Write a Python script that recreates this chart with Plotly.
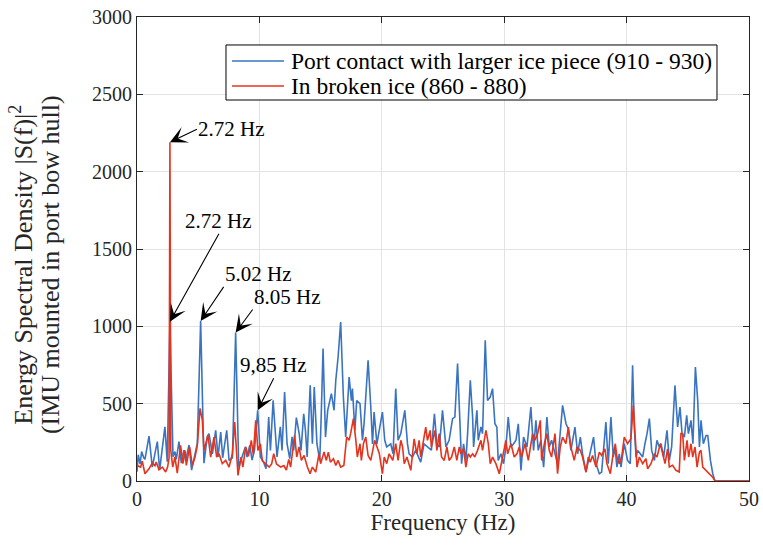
import plotly.graph_objects as go

# ---------------- data ----------------
blue_freq = [0.0, 0.1, 0.25, 0.38, 0.55, 0.65, 0.98, 1.25, 1.45, 1.66, 1.85, 2.05, 2.28, 2.47, 2.69,
             2.94, 3.10, 3.21, 3.43, 3.62, 3.84, 3.97, 4.25, 4.46, 4.79, 4.93, 5.2, 5.47, 5.74, 5.88,
             6.16, 6.43, 6.62, 6.84, 7.0, 7.33, 7.52, 7.8, 8.06, 8.31, 8.58, 8.85, 8.99, 9.21, 9.4,
             9.6, 9.86, 10.08, 10.35, 10.54, 10.76, 10.9, 11.12, 11.31, 11.44, 11.71, 11.85, 12.06,
             12.26, 12.48, 12.67, 12.8, 13.02, 13.25, 13.4, 13.62, 13.76, 13.9, 14.15, 14.33, 14.48,
             14.7, 14.93, 15.04, 15.2, 15.4, 15.58, 15.88, 16.1, 16.24, 16.43, 16.64, 16.86, 17.05,
             17.33, 17.52, 17.6, 17.8, 17.95, 18.22, 18.42, 18.55, 18.88, 19.1, 19.24, 19.37, 19.6,
             20.05, 20.24, 20.4, 20.73, 20.92, 21.14, 21.33, 21.55, 21.88, 22.1, 22.23, 22.5, 22.77,
             23.18, 23.45, 23.73, 24.05, 24.3, 24.5, 24.7, 24.96, 25.24, 25.5, 25.78, 25.97, 26.19,
             26.41, 26.52, 26.68, 26.87, 27.01, 27.23, 27.42, 27.5, 27.77, 27.88, 28.1, 28.23, 28.45,
             28.64, 28.86, 29.05, 29.24, 29.4, 29.51, 29.73, 29.95, 30.14, 30.33, 30.55, 30.77, 30.96,
             31.15, 31.37, 31.58, 31.86, 32.18, 32.4, 32.59, 32.78, 33.0, 33.22, 33.49, 33.68, 33.87,
             34.15, 34.36, 34.77, 35.05, 35.23, 35.45, 35.78, 36.0, 36.22, 36.4, 36.68, 36.95, 37.3,
             37.5, 37.77, 37.96, 38.12, 38.31, 38.5, 38.72, 38.91, 39.05, 39.21, 39.4, 39.54, 39.81,
             40.08, 40.3, 40.49, 40.63, 40.77, 40.9, 41.12, 41.31, 41.5, 41.67, 41.86, 42.05, 42.27,
             42.48, 42.67, 42.81, 43.03, 43.3, 43.49, 43.68, 43.95, 44.17, 44.36, 44.53, 44.72, 44.91,
             45.05, 45.26, 45.42, 45.62, 45.81, 45.95, 46.08, 46.27, 46.49, 46.63, 46.85, 47.04, 47.22,
             50.0]
blue_esd = [60, 170, 110, 190, 150, 140, 290, 90, 170, 255, 70, 200, 350, 125, 1030,
            157, 190, 140, 255, 115, 200, 130, 233, 70, 180, 245, 1035, 115, 287, 306,
            176, 327, 155, 316, 150, 327, 133, 150, 960, 90, 155, 220, 155, 230, 135,
            200, 457, 155, 120, 80, 413, 198, 521, 285, 155, 350, 198, 575,
            241, 145, 285, 198, 410, 306, 198, 435, 327, 155, 619, 241, 607,
            241, 133, 392, 856, 284, 457, 565, 457, 650, 802, 1028, 543, 284,
            672, 520, 597, 327, 520, 500, 263, 370, 780, 478, 240, 446, 240,
            446, 263, 220, 240, 176, 597, 263, 306, 457, 240, 176, 155, 198,
            122, 240, 220, 200, 435, 240, 220, 457, 220, 263, 403, 413, 759,
            306, 112, 240, 133, 306, 651, 413, 220, 457, 263, 349, 306, 910,
            520, 543, 597, 370, 349, 133, 176, 112, 220, 413, 220, 241, 263,
            370, 69, 284, 220, 478, 198, 392, 198, 263, 90, 413, 220, 263,
            176, 112, 489, 370, 338, 198, 349, 176, 284, 176, 58, 155, 284,
            112, 47, 58, 220, 381, 112, 413, 155, 220, 90, 176, 90, 241,
            133, 112, 748, 349, 155, 198, 176, 155, 241, 306, 403, 198, 133,
            263, 220, 241, 155, 327, 133, 220, 618, 349, 478, 306, 284, 424,
            306, 392, 241, 737, 520, 220, 392, 241, 294, 294, 133, 47, 0,
            0]

red_freq = [0.0, 0.3, 0.43, 0.65, 0.98, 1.25, 1.47, 1.57, 1.79, 2.07, 2.34, 2.5, 2.62, 2.69, 2.76,
            2.92, 3.1, 3.29, 3.56, 3.75, 3.92, 4.03, 4.3, 4.52, 4.74, 4.93, 5.15, 5.34, 5.47, 5.8,
            6.02, 6.29, 6.51, 6.7, 6.97, 7.25, 7.52, 7.79, 7.98, 8.14, 8.25, 8.5, 8.65, 8.88, 9.1,
            9.34, 9.5, 9.7, 9.88, 10.08, 10.24, 10.5, 10.8, 11.0, 11.17, 11.4, 11.74, 12.0, 12.2,
            12.4, 12.55, 12.88, 13.05, 13.24, 13.43, 13.65, 13.92, 14.14, 14.33, 14.6, 14.87, 15.0,
            15.28, 15.47, 15.63, 15.8, 16.05, 16.24, 16.43, 16.64, 16.9, 17.13, 17.33, 17.45, 17.68,
            17.88, 18.0, 18.22, 18.33, 18.5, 18.69, 18.88, 19.1, 19.42, 19.6, 19.8, 20.05, 20.2,
            20.4, 20.6, 20.9, 21.14, 21.33, 21.55, 21.7, 21.83, 22.05, 22.37, 22.64, 22.86, 23.05,
            23.18, 23.59, 23.73, 23.95, 24.05, 24.34, 24.5, 24.69, 24.88, 25.1, 25.32, 25.5, 25.7,
            25.92, 26.13, 26.33, 26.46, 26.68, 26.87, 27.06, 27.23, 27.42, 27.6, 27.82, 28.1, 28.23,
            28.51, 28.7, 28.86, 29.05, 29.32, 29.6, 29.87, 30.14, 30.28, 30.55, 30.82, 31.04, 31.23,
            31.42, 31.7, 31.97, 32.32, 32.51, 32.73, 32.95, 33.06, 33.28, 33.49, 33.68, 33.87, 34.15,
            34.36, 34.58, 34.77, 35.04, 35.24, 35.45, 35.72, 35.95, 36.22, 36.4, 36.68, 36.87, 37.03,
            37.22, 37.5, 37.77, 37.96, 38.23, 38.39, 38.67, 38.86, 39.08, 39.21, 39.4, 39.6, 39.81,
            40.08, 40.35, 40.55, 40.72, 40.85, 41.04, 41.31, 41.58, 41.72, 41.99, 42.27, 42.48, 42.76,
            42.95, 43.14, 43.35, 43.49, 43.76, 44.03, 44.3, 44.44, 44.58, 44.72, 44.94, 45.07, 45.26,
            45.4, 45.59, 45.76, 45.95, 46.08, 46.22, 46.49, 46.76, 47.03, 47.22, 50.0]
red_esd = [100, 90, 129, 47, 79, 116, 99, 123, 73, 90, 58, 90, 150, 2190, 200,
           90, 155, 51, 230, 112, 198, 101, 220, 101, 155, 230, 470, 392, 198, 295,
           155, 284, 155, 176, 112, 133, 90, 176, 381, 155, 36, 155, 90, 220, 160,
           263, 170, 392, 198, 241, 130, 112, 90, 110, 176, 110, 90, 100, 70,
           140, 90, 295, 155, 220, 133, 165, 90, 47, 90, 58, 176, 112,
           187, 133, 187, 122, 144, 101, 133, 90, 101, 284, 263, 306, 403,
           263, 155, 241, 133, 241, 284, 165, 133, 263, 220, 176, 47, 155,
           112, 176, 133, 241, 133, 263, 220, 112, 155, 69, 273, 176, 263,
           155, 349, 263, 327, 220, 327, 198, 306, 155, 133, 220, 133, 155,
           220, 133, 220, 176, 208, 90, 176, 155, 176, 155, 198, 263, 198,
           327, 241, 112, 155, 112, 47, 155, 263, 176, 241, 155, 176, 220,
           155, 241, 133, 306, 263, 306, 392, 133, 241, 306, 198, 155, 306,
           47, 220, 284, 241, 349, 220, 133, 220, 198, 155, 58, 155, 122,
           165, 90, 187, 165, 208, 112, 47, 155, 241, 155, 112, 155, 284,
           241, 273, 489, 263, 90, 155, 112, 144, 79, 112, 176, 155, 241,
           176, 112, 208, 90, 101, 69, 58, 306, 306, 133, 263, 155, 241,
           155, 220, 90, 187, 198, 90, 69, 47, 25, 0, 0]

series_names = ["Port contact with larger ice piece (910 - 930)", "In broken ice (860 - 880)"]
x_ticks = [0, 10, 20, 30, 40, 50]
y_ticks = [0, 500, 1000, 1500, 2000, 2500, 3000]
y_title_lines = ["Energy Spectral Density |S(f)|<sup>2</sup>", "(IMU mounted in port bow hull)"]
x_title = "Frequency (Hz)"

# peak annotations: label, peak (freq, value) the arrow points at
peak_labels = ["2.72 Hz", "2.72 Hz", "5.02 Hz", "8.05 Hz", "9,85 Hz"]
peak_freq = [2.69, 2.69, 5.2, 8.06, 9.86]
peak_val = [2190, 1030, 1035, 960, 457]

BLUE = "#3A74C0"
RED = "#E5341E"
COLORS = [BLUE, RED]
FONT = "Liberation Serif"
AX = "#262626"

fig = go.Figure()
fig.add_trace(go.Scatter(x=blue_freq, y=blue_esd, mode="lines", name=series_names[0],
                         line=dict(color=BLUE, width=1.6), showlegend=False))
fig.add_trace(go.Scatter(x=red_freq, y=red_esd, mode="lines", name=series_names[1],
                         line=dict(color=RED, width=1.6), showlegend=False))

# arrow tail offsets (px) and how the text box hangs off the tail
tail_dx = [27, 49, 23, 17, 16]
tail_dy = [-13, -88, -34, -23, -32]
x_anch = ["left", "center", "left", "left", "center"]
y_anch = ["middle", "bottom", "bottom", "bottom", "bottom"]
for i in range(len(peak_labels)):
    fig.add_annotation(x=peak_freq[i], y=peak_val[i], xref="x", yref="y",
                       text=peak_labels[i], showarrow=True, arrowhead=3, arrowsize=2.6,
                       arrowwidth=1.1, arrowcolor="black", ax=tail_dx[i], ay=tail_dy[i],
                       xanchor=x_anch[i], yanchor=y_anch[i], borderpad=0,
                       font=dict(family=FONT, size=21, color="black"))

# y-axis title as two lines
fig.add_annotation(x=-0.19, y=0.4655, xref="paper", yref="paper", text=y_title_lines[0],
                   textangle=-90, showarrow=False, xanchor="center", yanchor="middle",
                   font=dict(family=FONT, size=26, color=AX))
fig.add_annotation(x=-0.142, y=0.4655, xref="paper", yref="paper", text=y_title_lines[1],
                   textangle=-90, showarrow=False, xanchor="center", yanchor="middle",
                   font=dict(family=FONT, size=26, color=AX))

# legend box (drawn by hand to match the compact MATLAB legend)
leg_x0, leg_x1, leg_y0, leg_y1 = 0.1454, 0.9477, 0.8211, 0.9397
fig.add_shape(type="rect", xref="paper", yref="paper", x0=leg_x0, x1=leg_x1, y0=leg_y0, y1=leg_y1,
              line=dict(color="black", width=1), fillcolor="white", layer="above")
leg_rows = [0.9052, 0.8513]
for i in range(2):
    fig.add_shape(type="line", xref="paper", yref="paper", x0=0.1552, x1=0.2402,
                  y0=leg_rows[i], y1=leg_rows[i], line=dict(color=COLORS[i], width=1.6),
                  layer="above")
    fig.add_annotation(x=0.2484, y=leg_rows[i], xref="paper", yref="paper",
                       text=series_names[i], showarrow=False, xanchor="left", yanchor="middle",
                       font=dict(family=FONT, size=23.5, color="black"))

axis_common = dict(showline=True, linecolor=AX, linewidth=1, mirror="ticks",
                   ticks="inside", ticklen=6, tickcolor=AX, showgrid=True,
                   gridcolor="#E3E3E3", gridwidth=1, zeroline=False, automargin=False,
                   tickfont=dict(family=FONT, size=20, color=AX))

fig.update_xaxes(range=[0, 50], tickvals=x_ticks,
                 title=dict(text=x_title, font=dict(family=FONT, size=23, color=AX), standoff=4),
                 **axis_common)
fig.update_yaxes(range=[0, 3000], tickvals=y_ticks, **axis_common)

fig.update_layout(
    width=763, height=551,
    margin=dict(l=137, r=14, t=17, b=70),
    paper_bgcolor="white", plot_bgcolor="white",
    font=dict(family=FONT, color=AX),
    showlegend=False,
)

# remove the browser's default 8 px page margin so the figure sits at the window's corner
fig.write_html("out.html", config={"displayModeBar": False},
               post_script="document.body.style.margin='0';")
